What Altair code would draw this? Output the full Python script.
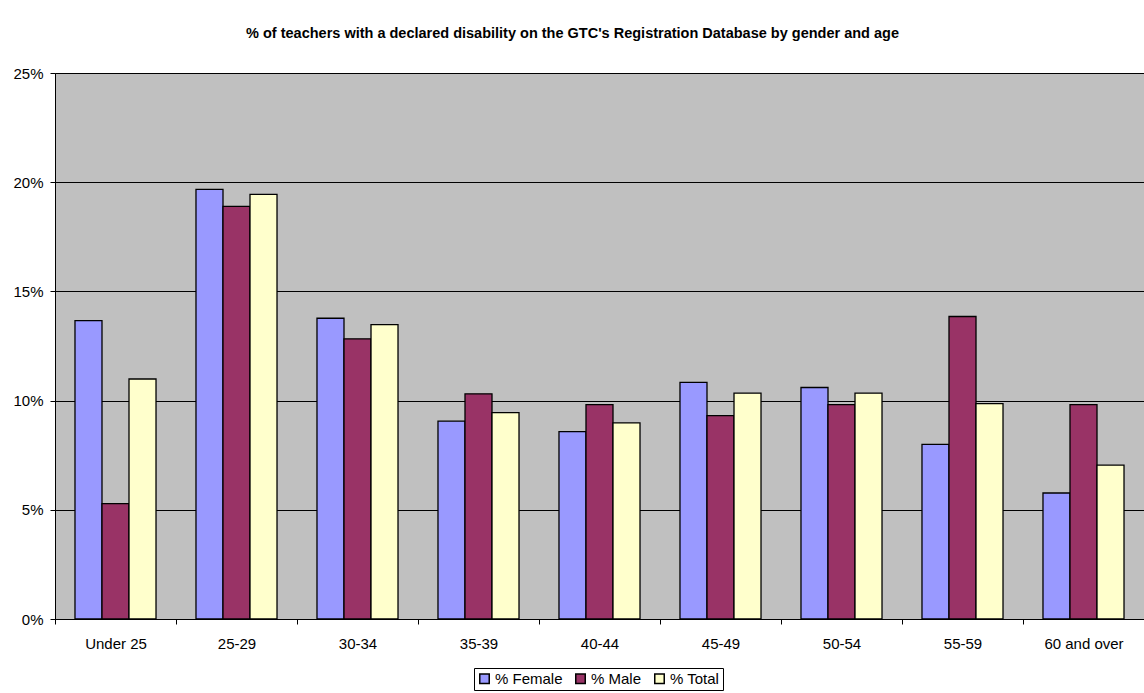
import altair as alt
import pandas as pd

ages = ["Under 25", "25-29", "30-34", "35-39", "40-44", "45-49", "50-54", "55-59", "60 and over"]
female = [13.66, 19.67, 13.77, 9.06, 8.58, 10.83, 10.60, 8.00, 5.77]
male = [5.28, 18.89, 12.83, 10.31, 9.82, 9.31, 9.82, 13.85, 9.82]
total = [10.99, 19.44, 13.48, 9.45, 8.98, 10.34, 10.34, 9.86, 7.05]
series = ["% Female", "% Male", "% Total"]
colors = ["#9999FF", "#993366", "#FFFFCC"]
y_ticks = [0, 0.05, 0.10, 0.15, 0.20, 0.25]

rows = []
for s, vals in zip(series, [female, male, total]):
    for a, v in zip(ages, vals):
        rows.append({"age": a, "series": s, "value": v / 100})
df = pd.DataFrame(rows)

FONT = "Liberation Sans"

chart = alt.Chart(df).mark_bar(stroke="black", strokeWidth=1.3).encode(
    x=alt.X(
        "age:N", sort=ages,
        scale=alt.Scale(paddingInner=0, paddingOuter=0),
        axis=alt.Axis(title=None, labelAngle=0, tickBand="extent", tickSize=5,
                      tickColor="black", domainColor="black", labelPadding=12,
                      labelFont=FONT, labelFontSize=15, labelColor="black"),
    ),
    xOffset=alt.XOffset("series:N", sort=series,
                        scale=alt.Scale(paddingInner=0, paddingOuter=0.74)),
    y=alt.Y(
        "value:Q",
        scale=alt.Scale(domain=[0, 0.25], nice=False),
        axis=alt.Axis(title=None, format=".0%", values=y_ticks, tickSize=5,
                      tickColor="black", domainColor="black", gridColor="black",
                      gridOpacity=1, labelPadding=7, labelFont=FONT,
                      labelFontSize=15, labelColor="black"),
    ),
    color=alt.Color(
        "series:N", sort=series,
        scale=alt.Scale(domain=series, range=colors),
        legend=alt.Legend(title=None, orient="none", legendX=419, legendY=595,
                          direction="horizontal",
                          strokeColor="black", padding=3,
                          symbolType="square", symbolStrokeColor="black",
                          symbolStrokeWidth=1.5, symbolSize=90, columnPadding=9,
                          labelOffset=3,
                          labelFont=FONT, labelFontSize=15, labelColor="black"),
    ),
).properties(
    width=1089,
    height=546,
    title=alt.TitleParams(
        "% of teachers with a declared disability on the GTC's Registration Database by gender and age",
        font=FONT, fontSize=14.5, fontWeight="bold", color="black",
        anchor="middle", offset=25, dx=-27,
    ),
    autosize=alt.AutoSizeParams(type="none"),
    padding={"left": 55, "top": 73, "right": 0, "bottom": 74},
).configure(background="white").configure_view(
    fill="#C0C0C0", stroke="#808080", strokeWidth=1
)

chart.save("out.html", embed_options={"renderer": "svg", "actions": False})
